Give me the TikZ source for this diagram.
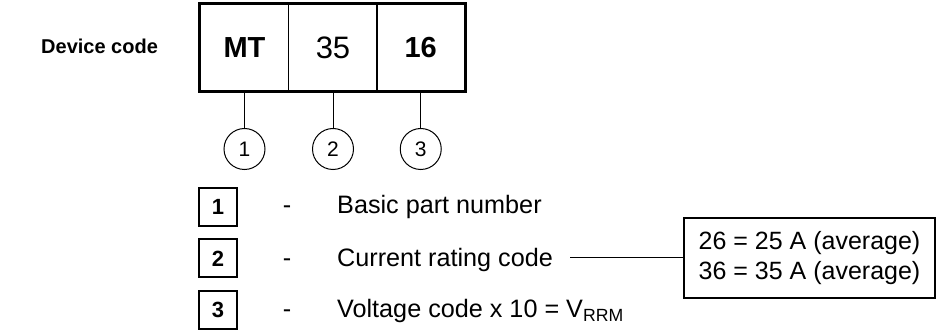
\documentclass[tikz,border=0pt]{standalone}
\usepackage{fontspec}
\setmainfont{Liberation Sans}
\usetikzlibrary{positioning}
\newcommand{\fs}[2]{\fontsize{#1}{#2}\selectfont}

\tikzset{
  cellbox/.style={draw, line width=1.3, minimum width=88.5, minimum height=87, inner sep=0},
  numcircle/.style={draw, circle, line width=1, minimum size=41, inner sep=0, font=\fs{21}{25}},
  keybox/.style={draw, line width=2, minimum size=38, inner sep=0, font=\fs{22}{26}\bfseries},
  desc/.style={anchor=base west, inner sep=0, font=\fs{25.2}{30}}
}

\begin{document}
\begin{tikzpicture}[x=1pt, y=-1pt]
  \useasboundingbox (0,0) rectangle (938,331);

  % Device code label
  \node[anchor=base west, inner sep=0, font=\fs{20}{24}\bfseries] (lbl) at (41,54) {Device code};

  % Code cells
  \node[cellbox, font=\fs{29}{35}\bfseries] (mt) at (244.5,47.5) {MT};
  \node[cellbox, font=\fs{31}{37}] (cur) at (333,47.5) {35};
  \node[cellbox, font=\fs{29}{35}\bfseries] (volt) at (420.75,47.5) {16};
  \draw[line width=2.5] (mt.north west) rectangle (volt.south east);

  % Numbered circles
  \node[numcircle] (c1) at (244.5,149) {1};
  \node[numcircle] (c2) at (333,149) {2};
  \node[numcircle] (c3) at (420.75,149) {3};
  \draw[line width=1] (mt.south) -- (c1.north);
  \draw[line width=1] (cur.south) -- (c2.north);
  \draw[line width=1] (volt.south) -- (c3.north);

  % Key list
  \node[keybox] (k1) at (218,207) {1};
  \node[keybox] (k2) at (218,258.5) {2};
  \node[keybox] (k3) at (218,310) {3};
  \node[anchor=base, inner sep=0, font=\fs{25.2}{30}] (h1) at (287,214) {-};
  \node[anchor=base, inner sep=0, font=\fs{25.2}{30}] (h2) at (287,267) {-};
  \node[anchor=base, inner sep=0, font=\fs{25.2}{30}] (h3) at (287,318) {-};
  \node[desc] (d1) at (337,214) {Basic part number};
  \node[desc] (d2) at (337,267) {Current rating code};
  \node[desc] (d3) at (337,318) {Voltage code x 10 = V\textsubscript{RRM}};

  % Current rating values
  \node[draw, line width=1.3, minimum width=251, minimum height=80, align=left, font=\fs{25}{30}] (rng) at (809.5,258) {26 = 25 A (average)\\36 = 35 A (average)};
  \draw[line width=1] ([xshift=17]d2.east |- rng.west) -- (rng.west);
\end{tikzpicture}
\end{document}
